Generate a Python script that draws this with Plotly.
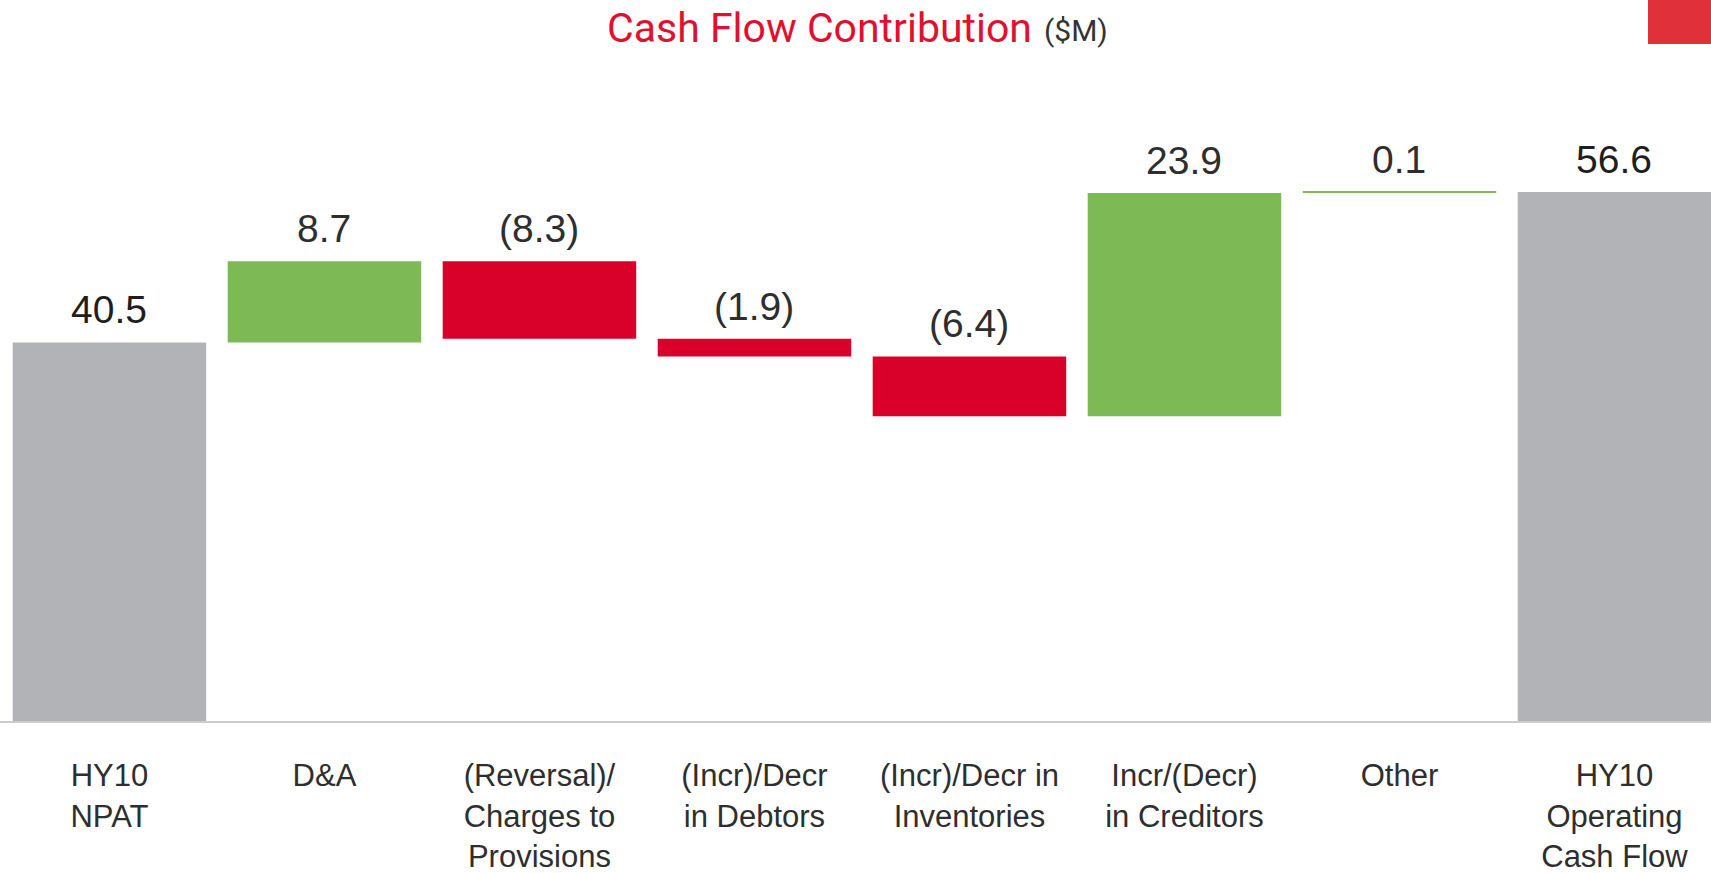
import plotly.graph_objects as go

categories = ["HY10<br>NPAT", "D&A", "(Reversal)/<br>Charges to<br>Provisions",
              "(Incr)/Decr<br>in Debtors", "(Incr)/Decr in<br>Inventories",
              "Incr/(Decr)<br>in Creditors", "Other", "HY10<br>Operating<br>Cash Flow"]
values = [40.5, 8.7, -8.3, -1.9, -6.4, 23.9, 0.1, 56.6]
measures = ["absolute", "relative", "relative", "relative", "relative", "relative", "relative", "total"]

GREEN = "#7dba56"
RED = "#d9002a"
GRAY = "#b1b3b6"
FONT = "Liberation Sans, Arial, sans-serif"

W, H = 1711, 873
M_L, M_R, M_T, M_B = 0, 0, 100, 152
plot_h = H - M_T - M_B

def fmt(v):
    return f"({abs(v):.1f})" if v < 0 else f"{v:.1f}"

x_idx = list(range(len(categories)))

fig = go.Figure(go.Waterfall(
    x=x_idx, y=values, measure=measures,
    increasing=dict(marker=dict(color=GREEN)),
    decreasing=dict(marker=dict(color=RED)),
    totals=dict(marker=dict(color=GRAY)),
    connector=dict(visible=False),
    width=0.9,
    hoverinfo="skip",
))

# value labels above the top of each bar
annotations = []
cum = 0.0
for i, (v, m) in enumerate(zip(values, measures)):
    if m == "absolute":
        top = v
        cum = v
    elif m == "total":
        top = cum
    else:
        top = max(cum, cum + v)
        cum += v
    annotations.append(dict(
        x=i, y=top, xref="x", yref="y", text=fmt(v), showarrow=False,
        yanchor="bottom", yshift=9,
        font=dict(family=FONT, size=39, color="#1e1e1e" if m != "relative" else "#2e2e2e"),
    ))

title_y = 1 + (M_T - 28) / plot_h
annotations.append(dict(
    x=819 / W, y=title_y, xref="paper", yref="paper", showarrow=False,
    xanchor="center", yanchor="middle", text="Cash Flow Contribution",
    font=dict(family="Roboto, Liberation Sans, sans-serif", size=41, color="#e0102f"),
))
annotations.append(dict(
    x=1076 / W, y=title_y, xref="paper", yref="paper", showarrow=False,
    xanchor="center", yanchor="middle", yshift=-3, text="($M)",
    font=dict(family="Roboto, Liberation Sans, sans-serif", size=30, color="#333333"),
))

fig.update_layout(
    width=W, height=H,
    margin=dict(l=M_L, r=M_R, t=M_T, b=M_B, pad=0),
    paper_bgcolor="white", plot_bgcolor="white",
    showlegend=False,
    annotations=annotations,
    shapes=[dict(type="rect", xref="paper", yref="paper",
                 x0=1648 / W, x1=1.01,
                 y0=1 + (M_T - 44) / plot_h, y1=1 + (M_T + 2) / plot_h,
                 fillcolor="#e0303a", line=dict(width=0), layer="above")],
    xaxis=dict(
        tickmode="array", tickvals=x_idx, ticktext=categories,
        range=[-0.509, 7.449], showgrid=False, zeroline=False,
        showline=True, linecolor="#cccccc", linewidth=2, layer="below traces",
        ticks="", ticklabelstandoff=26,
        tickfont=dict(family=FONT, size=31, color="#2e2e2e"),
        fixedrange=True,
    ),
    yaxis=dict(range=[0, 66.44], visible=False, fixedrange=True),
)

fig.write_html("out.html", config={"displayModeBar": False},
               post_script="document.body.style.margin='0';document.body.style.overflow='hidden';")
